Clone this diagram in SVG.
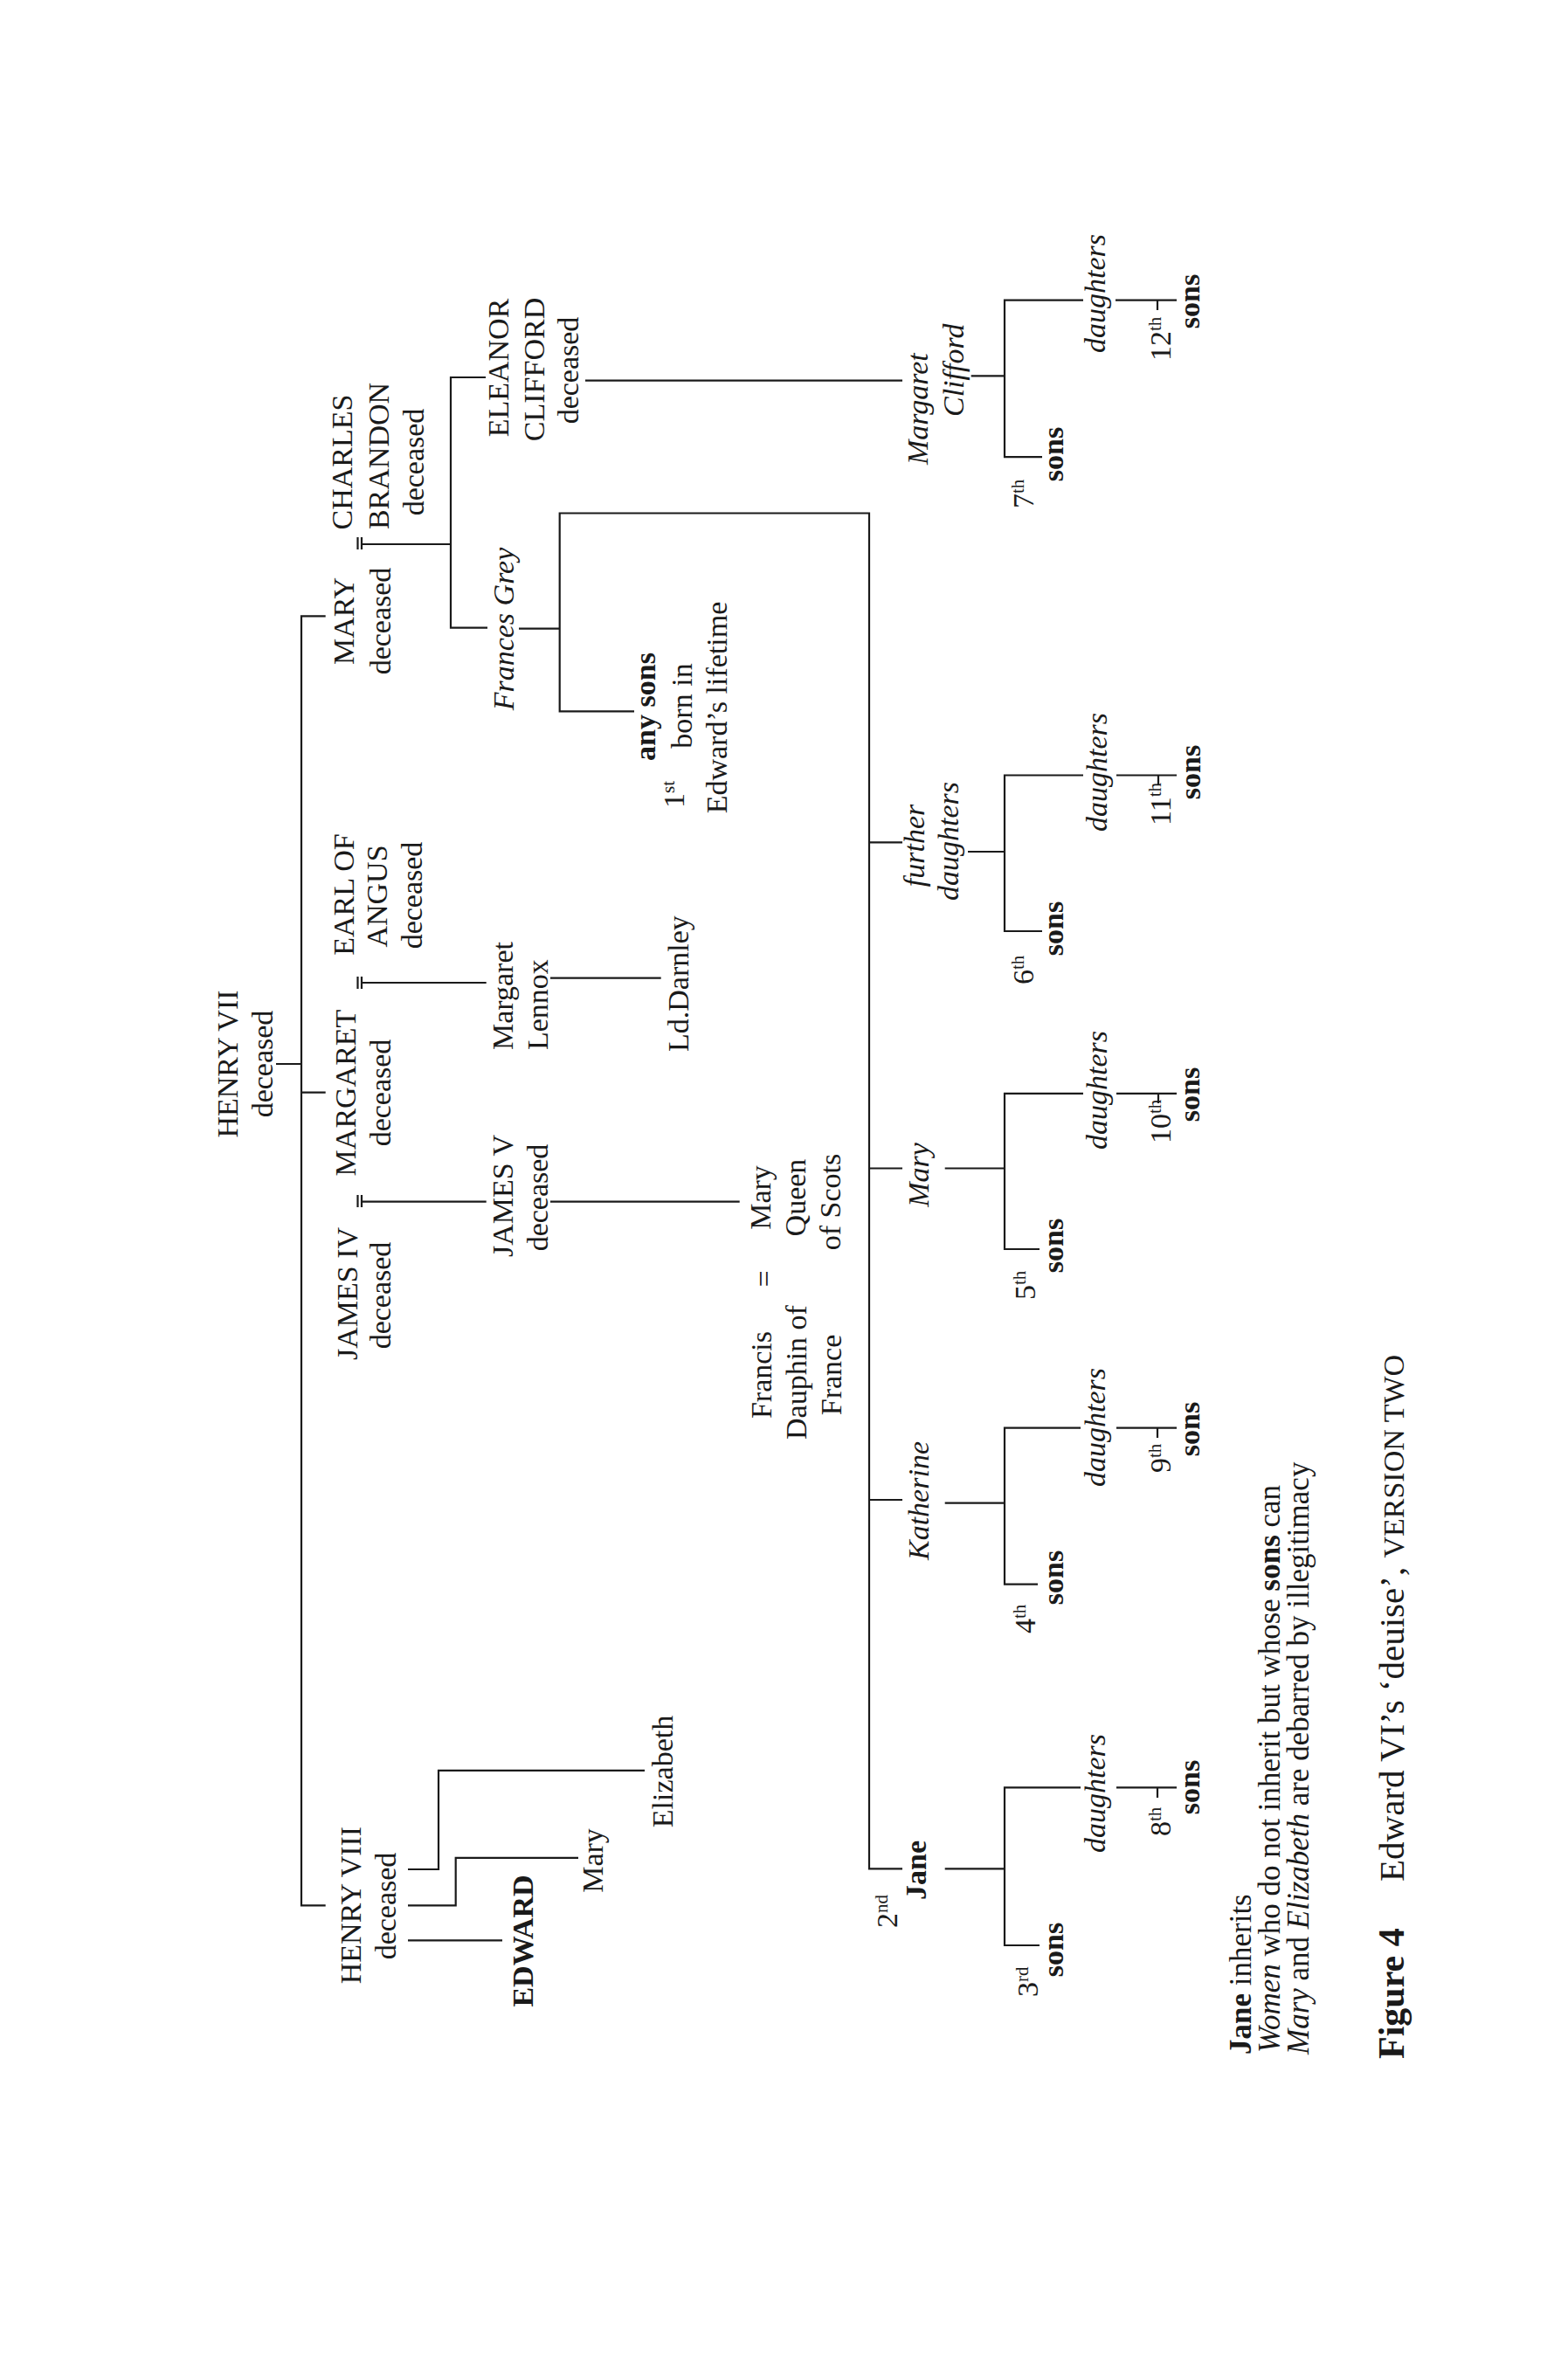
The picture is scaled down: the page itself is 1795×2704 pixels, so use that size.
<svg xmlns="http://www.w3.org/2000/svg" width="1795" height="2704" viewBox="0 0 1795 2704">
<style>
.t{font-family:"Liberation Serif","Times New Roman",serif;font-size:34px;fill:#1a1a1a}
.m{text-anchor:middle}
.i{font-style:italic}
.b{font-weight:bold}
.c{fill:none;stroke:#1a1a1a;stroke-width:2.2}
.sup{font-size:21px}
.lg{font-size:35px}
.fig{font-size:42px;font-weight:bold}
.cap{font-size:41px}
.sc{font-size:34px}
</style>
<rect width="1795" height="2704" fill="#ffffff"/>
<g id="connectors" class="c">
<path d="M316,1218 H345 M372.7,705.4 H345 V2181.4 H372.7 M345,1250.7 H372.7"/>
<path d="M409.5,615 V629 M414,615 V629 M414,623 H516"/>
<path d="M556,432 H516 V718.6 H558"/>
<path d="M670,435.7 H1033"/>
<path d="M594,719.6 H640.7 M726,814.3 H640.7 V587.5 H995 V2139.3 H1033"/>
<path d="M995,964.3 H1033 M995,1337.5 H1033 M995,1717 H1033"/>
<path d="M409.5,1118 V1132 M414,1118 V1132 M414,1125 H556.7"/>
<path d="M630,1119.6 H756.7"/>
<path d="M409.5,1368 V1382 M414,1368 V1382 M414,1375.7 H556.7"/>
<path d="M630,1375.7 H846.7"/>
<path d="M467,2140 H502 V2026.8 H738 M467,2181.4 H521.7 V2126.8 H662 M467,2221.4 H575"/>
<path d="M1111.7,430.4 H1150 M1240,343.6 H1150 V523.2 H1193 M1277,343.6 H1347 M1325,343.6 V355"/>
<path d="M1108,975 H1150 M1240,887.5 H1150 V1066 H1193 M1278,887.5 H1347 M1326,887.5 V899"/>
<path d="M1081.7,1337.5 H1150 M1240,1251.8 H1150 V1430 H1190 M1278,1251.8 H1347 M1326,1251.8 V1263"/>
<path d="M1081.7,1720.7 H1150 M1237,1634.6 H1150 V1813.6 H1188 M1278,1634.6 H1347 M1325,1634.6 V1646"/>
<path d="M1081.7,2139.3 H1150 M1237,2046.4 H1150 V2227 H1190 M1278,2046.4 H1347 M1325,2046.4 V2058"/>
</g>
<g transform="translate(0 2704) rotate(-90)">
<g id="henry7"><text class="t m" x="1486" y="272">HENRY VII</text><text class="t m" x="1486" y="312">deceased</text></g>
<g id="mary-tudor"><text class="t m" x="1993" y="405">MARY</text><text class="t m" x="1993" y="447">deceased</text></g>
<g id="charles-brandon"><text class="t m" x="2175" y="403">CHARLES</text><text class="t m" x="2182" y="445">BRANDON</text><text class="t m" x="2175" y="485">deceased</text></g>
<g id="eleanor"><text class="t m" x="2283" y="582">ELEANOR</text><text class="t m" x="2281" y="623">CLIFFORD</text><text class="t m" x="2280" y="662">deceased</text></g>
<g id="frances"><text class="t m i" x="1984" y="588">Frances Grey</text></g>
<g id="any-sons"><text class="t m b" x="1895" y="750">any sons</text><text class="t m" x="1896" y="792">born in</text><text class="t m" x="1894" y="832">Edward’s lifetime</text><text class="t" x="1779" y="783">1<tspan class="sup" dy="-11">st</tspan></text></g>
<g id="margaret-tudor"><text class="t m" x="1453" y="407">MARGARET</text><text class="t m" x="1453" y="447">deceased</text></g>
<g id="angus"><text class="t m" x="1680" y="405">EARL OF</text><text class="t m" x="1678" y="443">ANGUS</text><text class="t m" x="1679" y="483">deceased</text></g>
<g id="james4"><text class="t m" x="1223" y="409">JAMES IV</text><text class="t m" x="1221" y="447">deceased</text></g>
<g id="james5"><text class="t m" x="1335" y="587">JAMES V</text><text class="t m" x="1333" y="627">deceased</text></g>
<g id="lennox"><text class="t" x="1502" y="587">Margaret</text><text class="t" x="1502" y="627">Lennox</text></g>
<g id="darnley"><text class="t" x="1500" y="788">Ld.Darnley</text></g>
<g id="mary-qos"><text class="t m" x="1333" y="882">Mary</text><text class="t m" x="1333" y="922">Queen</text><text class="t m" x="1328" y="962">of Scots</text></g>
<g id="marriage-francis"><text class="t m" x="1240" y="886">=</text></g>
<g id="francis"><text class="t m" x="1130" y="883">Francis</text><text class="t m" x="1133" y="923">Dauphin of</text><text class="t m" x="1130" y="963">France</text></g>
<g id="henry8"><text class="t m" x="523" y="413">HENRY VIII</text><text class="t m" x="522" y="453">deceased</text></g>
<g id="edward"><text class="t m b" x="482" y="610">EDWARD</text></g>
<g id="mary-h8"><text class="t m" x="574" y="690">Mary</text></g>
<g id="elizabeth"><text class="t m" x="676" y="770">Elizabeth</text></g>
<g id="jane"><text class="t m b" x="563" y="1060">Jane</text><text class="t" x="497" y="1027">2<tspan class="sup" dy="-11">nd</tspan></text></g>
<g id="katherine"><text class="t m i" x="986" y="1063">Katherine</text></g>
<g id="mary-grey"><text class="t m i" x="1359" y="1063">Mary</text></g>
<g id="further"><text class="t m i" x="1736" y="1058">further</text><text class="t m i" x="1741" y="1097">daughters</text></g>
<g id="margaret-clifford"><text class="t i" x="2172" y="1062">Margaret</text><text class="t i" x="2227" y="1103">Clifford</text></g>
<g id="clifford-issue"><text class="t m i" x="2368" y="1265">daughters</text><text class="t m b" x="2359" y="1373">sons</text><text class="t" x="2291" y="1340">12<tspan class="sup" dy="-11">th</tspan></text><text class="t m b" x="2184" y="1217">sons</text><text class="t" x="2122" y="1183">7<tspan class="sup" dy="-11">th</tspan></text></g>
<g id="further-issue"><text class="t m i" x="1820" y="1267">daughters</text><text class="t m b" x="1820" y="1374">sons</text><text class="t" x="1759" y="1340">11<tspan class="sup" dy="-11">th</tspan></text><text class="t m b" x="1641" y="1217">sons</text><text class="t" x="1577" y="1183">6<tspan class="sup" dy="-11">th</tspan></text></g>
<g id="mary-issue"><text class="t m i" x="1456" y="1267">daughters</text><text class="t m b" x="1451" y="1373">sons</text><text class="t" x="1395" y="1340">10<tspan class="sup" dy="-11">th</tspan></text><text class="t m b" x="1278" y="1217">sons</text><text class="t" x="1216" y="1185">5<tspan class="sup" dy="-11">th</tspan></text></g>
<g id="katherine-issue"><text class="t m i" x="1070" y="1265">daughters</text><text class="t m b" x="1068" y="1373">sons</text><text class="t" x="1018" y="1340">9<tspan class="sup" dy="-11">th</tspan></text><text class="t m b" x="898" y="1217">sons</text><text class="t" x="834" y="1185">4<tspan class="sup" dy="-11">th</tspan></text></g>
<g id="jane-issue"><text class="t m i" x="651" y="1265">daughters</text><text class="t m b" x="658" y="1373">sons</text><text class="t" x="602" y="1340">8<tspan class="sup" dy="-11">th</tspan></text><text class="t m b" x="472" y="1217">sons</text><text class="t" x="418" y="1188">3<tspan class="sup" dy="-11">rd</tspan></text></g>
<g id="legend">
<text class="t lg" x="352" y="1432"><tspan class="b">Jane</tspan> inherits</text>
<text class="t lg" x="354" y="1465"><tspan class="i">Women</tspan> who do not inherit but whose <tspan class="b">sons</tspan> can</text>
<text class="t lg" x="352" y="1498"><tspan class="i">Mary</tspan> and <tspan class="i">Elizabeth</tspan> are debarred by illegitimacy</text>
</g>
<g id="caption">
<text class="t fig" x="347" y="1607">Figure 4</text>
<text class="t cap" x="550" y="1607">Edward VI’s ‘deuise’, <tspan class="sc">VERSION TWO</tspan></text>
</g>
</g>
</svg>
